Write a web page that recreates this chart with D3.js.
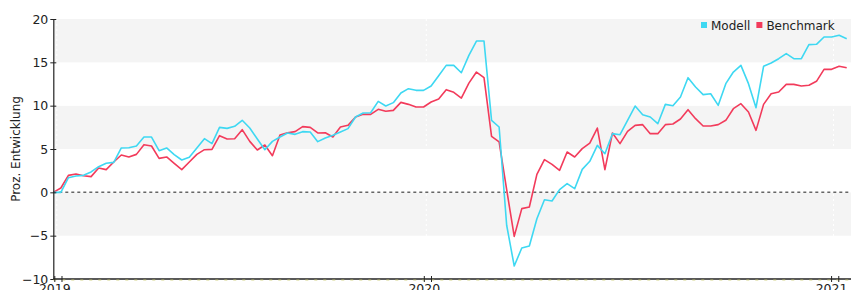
<!DOCTYPE html>
<html>
<head>
<meta charset="utf-8">
<script src="https://cdn.jsdelivr.net/npm/d3@7"></script>
<style>
  body { margin: 0; background: #fff; }
  svg { display: block; font-family: "DejaVu Sans", Verdana, sans-serif; }
</style>
</head>
<body>
<div id="chart"></div>
<script>
// series values (percent change), one point per period
var modell = [0, 0, 1.69, 1.88, 1.96, 2.35, 2.96, 3.35, 3.46, 5.12, 5.15, 5.35, 6.38, 6.38, 4.81, 5.12, 4.35, 3.73, 4.04, 5.12, 6.19, 5.62, 7.5, 7.38, 7.62, 8.31, 7.42, 6.15, 4.92, 5.88, 6.38, 6.85, 6.69, 7.0, 6.96, 5.85, 6.27,
  6.58, 6.96, 7.35, 8.69, 9.15, 9.19, 10.5, 9.96, 10.35, 11.46, 11.96, 11.77, 11.77, 12.27, 13.46, 14.65, 14.65, 13.8, 15.8, 17.46, 17.46, 8.3, 7.54, -3.8, -8.5, -6.42, -6.19, -3.04, -0.85, -1.0, 0.31, 1.0, 0.42, 2.65, 3.58, 5.42,
  4.46, 6.77, 6.65, 8.31, 9.96, 8.96, 8.69, 7.92, 10.15, 10.0, 11.0, 13.23, 12.15, 11.27, 11.38, 10.04, 12.54, 13.88, 14.65, 12.54, 9.77, 14.54, 14.92, 15.42, 16.0, 15.42, 15.42, 17.04, 17.08, 17.92, 17.92, 18.12, 17.73];

var benchmark = [0, 0.5, 1.96, 2.12, 1.92, 1.81, 2.81, 2.62, 3.5, 4.31, 4.08, 4.38, 5.5, 5.35, 3.92, 4.08, 3.35, 2.62, 3.5, 4.38, 4.92, 4.96, 6.54, 6.15, 6.19, 7.23, 5.88, 4.88, 5.46, 4.23, 6.62, 6.88, 7.0, 7.58, 7.5, 6.85, 6.88,
  6.38, 7.54, 7.73, 8.69, 9.0, 9.0, 9.58, 9.35, 9.46, 10.38, 10.15, 9.85, 9.85, 10.42, 10.77, 11.85, 11.54, 10.88, 12.6, 13.88, 13.23, 6.46, 5.81, 0.3, -5.08, -1.88, -1.69, 2.08, 3.77, 3.23, 2.54, 4.65, 4.08, 5.04, 5.69, 7.42,
  2.62, 6.85, 5.62, 7.04, 7.73, 7.81, 6.77, 6.77, 7.81, 7.88, 8.46, 9.54, 8.5, 7.65, 7.65, 7.81, 8.31, 9.65, 10.23, 9.27, 7.15, 10.15, 11.38, 11.58, 12.46, 12.46, 12.27, 12.35, 12.81, 14.19, 14.19, 14.54, 14.38];

// x axis: year labels and where they fall on the period index
var yearLabels = ["2019", "2020", "2021"];
var yearPos = [0.2, 49.1, 103.0];
var yTicks = [-10, -5, 0, 5, 10, 15, 20];

var seriesNames = ["Modell", "Benchmark"];
var seriesColors = ["#3ed8f2", "#f23b5b"];

var W = 851, H = 290;
var mLeft = 53.3, mRight = 846.7, mTop = 19, mBottom = 279;

var svg = d3.select("#chart").append("svg").attr("width", W).attr("height", H);

var x = d3.scaleLinear().domain([0, modell.length - 1]).range([mLeft, mRight]);
var y = d3.scaleLinear().domain([-10, 20]).range([mBottom, mTop]);

// alternating horizontal bands
var bands = [];
for (var i = 0; i < yTicks.length - 1; i++) {
  bands.push([yTicks[i], yTicks[i + 1], i]);
}
svg.selectAll(".band").data(bands).enter().append("rect")
  .attr("x", mLeft).attr("width", W - mLeft)
  .attr("y", function(d) { return y(d[1]); })
  .attr("height", function(d) { return y(d[0]) - y(d[1]); })
  .attr("fill", function(d) { return (d[2] % 2 === 1) ? "#f4f4f4" : "#ffffff"; });

// faint vertical gridlines at the years
svg.selectAll(".vgrid").data(yearPos).enter().append("line")
  .attr("x1", function(d) { return x(d) + 2; }).attr("x2", function(d) { return x(d) + 2; })
  .attr("y1", mTop).attr("y2", mBottom)
  .attr("stroke", "#ffffff").attr("stroke-width", 1).attr("stroke-dasharray", "2,3");

// zero line
svg.append("line").attr("x1", mLeft).attr("x2", W)
  .attr("y1", y(0)).attr("y2", y(0))
  .attr("stroke", "#666").attr("stroke-width", 1.5).attr("stroke-dasharray", "3,3");

// lines
var line = d3.line().x(function(d, i) { return x(i); }).y(function(d) { return y(d); });
[benchmark, modell].forEach(function(s, k) {
  svg.append("path").datum(s)
    .attr("fill", "none")
    .attr("stroke", k === 0 ? seriesColors[1] : seriesColors[0])
    .attr("stroke-width", 1.6)
    .attr("stroke-linejoin", "round")
    .attr("d", line);
});

// y axis
var yaxis = d3.axisLeft(y).tickValues(yTicks).tickSize(0).tickPadding(5);
var gy = svg.append("g").attr("transform", "translate(" + mLeft + ",0)").call(yaxis);
gy.select(".domain").attr("stroke", "#222").attr("stroke-width", 1.2);
gy.selectAll("text").attr("font-size", "12.5px").attr("fill", "#222")
  .attr("font-family", "DejaVu Sans, Verdana, sans-serif");
gy.selectAll(".tick").append("line").attr("x1", -3).attr("x2", 3).attr("stroke", "#222");

// x axis line
svg.append("line").attr("x1", mLeft).attr("x2", W).attr("y1", mBottom).attr("y2", mBottom)
  .attr("stroke", "#222").attr("stroke-width", 1.4);
svg.append("line").attr("x1", mLeft).attr("x2", W).attr("y1", mBottom + 1).attr("y2", mBottom + 1)
  .attr("stroke", "#c9c96a").attr("stroke-width", 0.8).attr("stroke-dasharray", "3,6");

// year ticks (double marks) and labels
var gx = svg.append("g");
yearPos.forEach(function(p, i) {
  [0, 0.95].forEach(function(o) {
    gx.append("line").attr("x1", x(p + o)).attr("x2", x(p + o))
      .attr("y1", mBottom - 3).attr("y2", mBottom + 3)
      .attr("stroke", "#222").attr("stroke-width", 1);
  });
  gx.append("text").attr("x", x(p)).attr("y", mBottom + 14)
    .attr("text-anchor", "middle").attr("font-size", "12.5px").attr("fill", "#222")
    .text(yearLabels[i]);
});

// y axis title
svg.append("text").attr("transform", "translate(20," + (mTop + mBottom) / 2 + ") rotate(-90)")
  .attr("text-anchor", "middle").attr("font-size", "12px").attr("fill", "#222")
  .text("Proz. Entwicklung");

// legend
var lg = svg.append("g").attr("transform", "translate(701,25)");
var lx = 0;
seriesNames.forEach(function(n, i) {
  lg.append("rect").attr("x", lx).attr("y", -3).attr("width", 6).attr("height", 6)
    .attr("fill", seriesColors[i]);
  var t = lg.append("text").attr("x", lx + 10).attr("y", 4.5)
    .attr("font-size", "12px").attr("fill", "#222").text(n);
  lx += 10 + t.node().getComputedTextLength() + 6;
});
</script>
</body>
</html>
